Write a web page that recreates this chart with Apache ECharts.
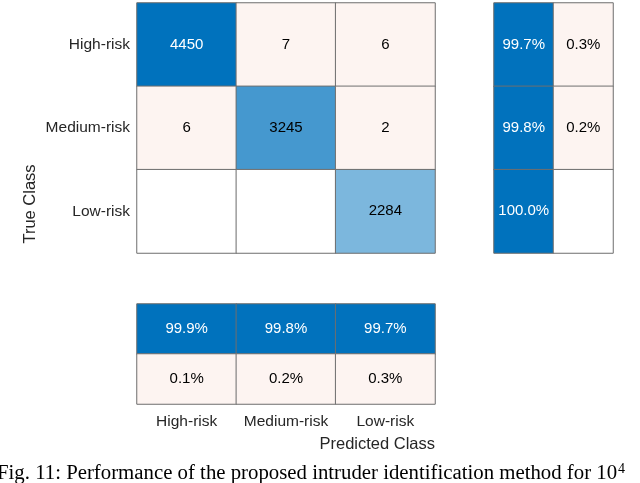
<!DOCTYPE html>
<html>
<head>
<meta charset="utf-8">
<script src="https://cdn.jsdelivr.net/npm/echarts@6/dist/echarts.min.js"></script>
<style>html,body{margin:0;padding:0;background:#fff}#c{width:640px;height:483px}</style>
</head>
<body>
<div id="c"></div>
<script>
const classes = ['High-risk', 'Medium-risk', 'Low-risk'];
// rows = true class, columns = predicted class
const counts = [
  [4450, 7, 6],
  [6, 3245, 2],
  [0, 0, 2284]
];
// row summary: [correct %, incorrect %] per true class
const rowPct = [
  [99.7, 0.3],
  [99.8, 0.2],
  [100.0, 0.0]
];
// column summary: row 0 = correct %, row 1 = incorrect % per predicted class
const colPctCorrect = [99.9, 99.8, 99.7];
const colPctWrong = [0.1, 0.2, 0.3];
const xLabel = 'Predicted Class';
const yLabel = 'True Class';
const caption = 'Fig. 11: Performance of the proposed intruder identification method for 10';
const captionSup = '4';

const BLUE = [0, 114, 189];
const PINK = '#fdf4f1';
function blue(t) {
  const c = BLUE.map(v => Math.round(255 - t * (255 - v)));
  return 'rgb(' + c.join(',') + ')';
}
const FONT = '"Liberation Sans", Arial, sans-serif';
const maxCount = Math.max(...counts.flat());

function cell(x, y, v, isDiag, scale, text) {
  let color, tc;
  if (v === 0) { color = '#ffffff'; tc = '#000'; }
  else if (isDiag) { const t = v / scale; color = blue(t); tc = t > 0.8 ? '#ffffff' : '#000000'; }
  else { color = PINK; tc = '#000000'; }
  return { value: [x, y, v], itemStyle: { color: color }, label: { color: tc, formatter: v === 0 ? '' : text } };
}

const mainData = [];
counts.forEach((row, i) => row.forEach((v, j) => mainData.push(cell(j, i, v, i === j, maxCount, String(v)))));
const rowData = [];
rowPct.forEach((r, i) => {
  rowData.push(cell(0, i, r[0], true, 100, r[0].toFixed(1) + '%'));
  rowData.push(cell(1, i, r[1], false, 100, r[1].toFixed(1) + '%'));
});
const colData = [];
colPctCorrect.forEach((v, j) => colData.push(cell(j, 0, v, true, 100, v.toFixed(1) + '%')));
colPctWrong.forEach((v, j) => colData.push(cell(j, 1, v, false, 100, v.toFixed(1) + '%')));

const hidden = { show: false };
const baseAxis = { type: 'category', axisLine: hidden, axisTick: hidden, splitLine: hidden, splitArea: hidden };
const cellStyle = { borderColor: '#6e6e6e', borderWidth: 1 };
const lbl = { show: true, fontFamily: FONT, fontSize: 15 };
const axLbl = { fontFamily: FONT, fontSize: 15.5, color: '#262626', interval: 0, hideOverlap: false };

const chart = echarts.init(document.getElementById('c'), null, { renderer: 'canvas' });
chart.setOption({
  animation: false,
  grid: [
    { left: 137, top: 3, width: 298, height: 250 },
    { left: 494, top: 3, width: 119, height: 250 },
    { left: 137, top: 304, width: 298, height: 100 }
  ],
  xAxis: [
    Object.assign({}, baseAxis, { gridIndex: 0, data: classes, axisLabel: hidden }),
    Object.assign({}, baseAxis, { gridIndex: 1, data: ['c', 'w'], axisLabel: hidden }),
    Object.assign({}, baseAxis, { gridIndex: 2, data: classes, axisLabel: Object.assign({ margin: 10 }, axLbl) })
  ],
  yAxis: [
    Object.assign({}, baseAxis, { gridIndex: 0, data: classes, inverse: true, axisLabel: Object.assign({ margin: 7 }, axLbl) }),
    Object.assign({}, baseAxis, { gridIndex: 1, data: classes, inverse: true, axisLabel: hidden }),
    Object.assign({}, baseAxis, { gridIndex: 2, data: ['c', 'w'], inverse: true, axisLabel: hidden })
  ],
  series: [
    { type: 'heatmap', xAxisIndex: 0, yAxisIndex: 0, data: mainData, itemStyle: cellStyle, label: lbl, emphasis: { disabled: true } },
    { type: 'heatmap', xAxisIndex: 1, yAxisIndex: 1, data: rowData, itemStyle: cellStyle, label: lbl, emphasis: { disabled: true } },
    { type: 'heatmap', xAxisIndex: 2, yAxisIndex: 2, data: colData, itemStyle: cellStyle, label: lbl, emphasis: { disabled: true } }
  ],
  graphic: [
    { type: 'text', x: 435, y: 444, style: { text: xLabel, font: '16.5px ' + FONT, fill: '#262626', textAlign: 'right', textVerticalAlign: 'middle' } },
    { type: 'text', x: 30, y: 204, rotation: Math.PI / 2, style: { text: yLabel, font: '16.5px ' + FONT, fill: '#262626', textAlign: 'center', textVerticalAlign: 'middle' } },
    { type: 'text', x: -3, y: 474, style: {
        text: '{a|' + caption + '}{s|' + captionSup + '}',
        textVerticalAlign: 'middle',
        rich: {
          a: { fontFamily: '"Liberation Serif", "Times New Roman", serif', fontSize: 20.8, color: '#000' },
          s: { fontFamily: '"Liberation Serif", "Times New Roman", serif', fontSize: 14, color: '#000', verticalAlign: 'top', padding: [0, 0, 9, 1] }
        }
    } }
  ]
});
</script>
</body>
</html>
